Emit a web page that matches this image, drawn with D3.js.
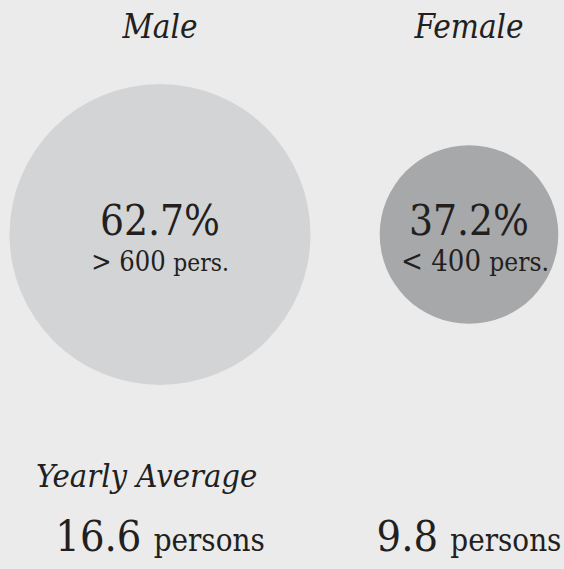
<!DOCTYPE html>
<html>
<head>
<meta charset="utf-8">
<script src="https://cdn.jsdelivr.net/npm/d3@7"></script>
<style>
  html, body { margin: 0; padding: 0; background: #ebebeb; }
  svg { display: block; }
  text { font-family: "DejaVu Serif Condensed", "DejaVu Serif", serif; font-stretch: condensed; fill: #231f20; }
</style>
</head>
<body>
<script>
// data
const genders = ["Male", "Female"];
const shares = [62.7, 37.2];           // percent
const headcount = ["> 600", "< 400"];  // pers.
const yearlyAvg = [16.6, 9.8];         // persons
const avgTitle = "Yearly Average";

let width = 564,
    height = 569;

let svg = d3.select("body").append("svg")
    .attr("width", width)
    .attr("height", height);

svg.append("rect")
    .attr("width", width)
    .attr("height", height)
    .attr("fill", "#ebebeb");

let x = d3.scalePoint()
    .domain(genders)
    .range([160, 469]);

// radius proportional to the share
let r = d3.scaleLinear()
    .domain([0, d3.max(shares)])
    .range([0, 150.5]);

let color = d3.scaleOrdinal()
    .domain(genders)
    .range(["#d3d4d6", "#a7a8aa"]);

let cy = 234.5;

let rows = genders.map(function(g, i) {
    return {gender: g, share: shares[i], count: headcount[i], avg: yearlyAvg[i]};
});

// titles
svg.selectAll(".title")
    .data(rows)
    .enter().append("text")
    .attr("class", "title")
    .attr("x", function(d) { return x(d.gender); })
    .attr("y", 38)
    .attr("text-anchor", "middle")
    .attr("font-style", "italic")
    .attr("font-size", 33)
    .text(function(d) { return d.gender; });

// circles
svg.selectAll("circle")
    .data(rows)
    .enter().append("circle")
    .attr("cx", function(d) { return x(d.gender); })
    .attr("cy", cy)
    .attr("r", function(d) { return r(d.share); })
    .attr("fill", function(d) { return color(d.gender); });

// percent labels
svg.selectAll(".pct")
    .data(rows)
    .enter().append("text")
    .attr("class", "pct")
    .attr("x", function(d) { return x(d.gender); })
    .attr("y", cy)
    .attr("text-anchor", "middle")
    .attr("font-size", 42)
    .text(function(d) { return d.share.toFixed(1) + "%"; });

let sub = svg.selectAll(".sub")
    .data(rows)
    .enter().append("text")
    .attr("class", "sub")
    .attr("x", function(d) { return x(d.gender); })
    .attr("dx", function(d, i) { return i ? 6 : 0; })
    .attr("y", 271)
    .attr("text-anchor", "middle")
    .attr("font-size", function(d, i) { return i ? 29 : 27; });
sub.append("tspan").text(function(d) { return d.count + " "; });
sub.append("tspan").attr("font-size", "0.9em").text("pers.");

// yearly average
svg.append("text")
    .attr("x", 36)
    .attr("y", 487)
    .attr("font-style", "italic")
    .attr("font-size", 32.5)
    .text(avgTitle);

let avg = svg.selectAll(".avg")
    .data(rows)
    .enter().append("text")
    .attr("class", "avg")
    .attr("x", function(d) { return x(d.gender); })
    .attr("y", 551)
    .attr("text-anchor", "middle")
    .attr("font-size", 43);
avg.append("tspan").text(function(d) { return d.avg + " "; });
avg.append("tspan").attr("font-size", 31).text("persons");
</script>
</body>
</html>
